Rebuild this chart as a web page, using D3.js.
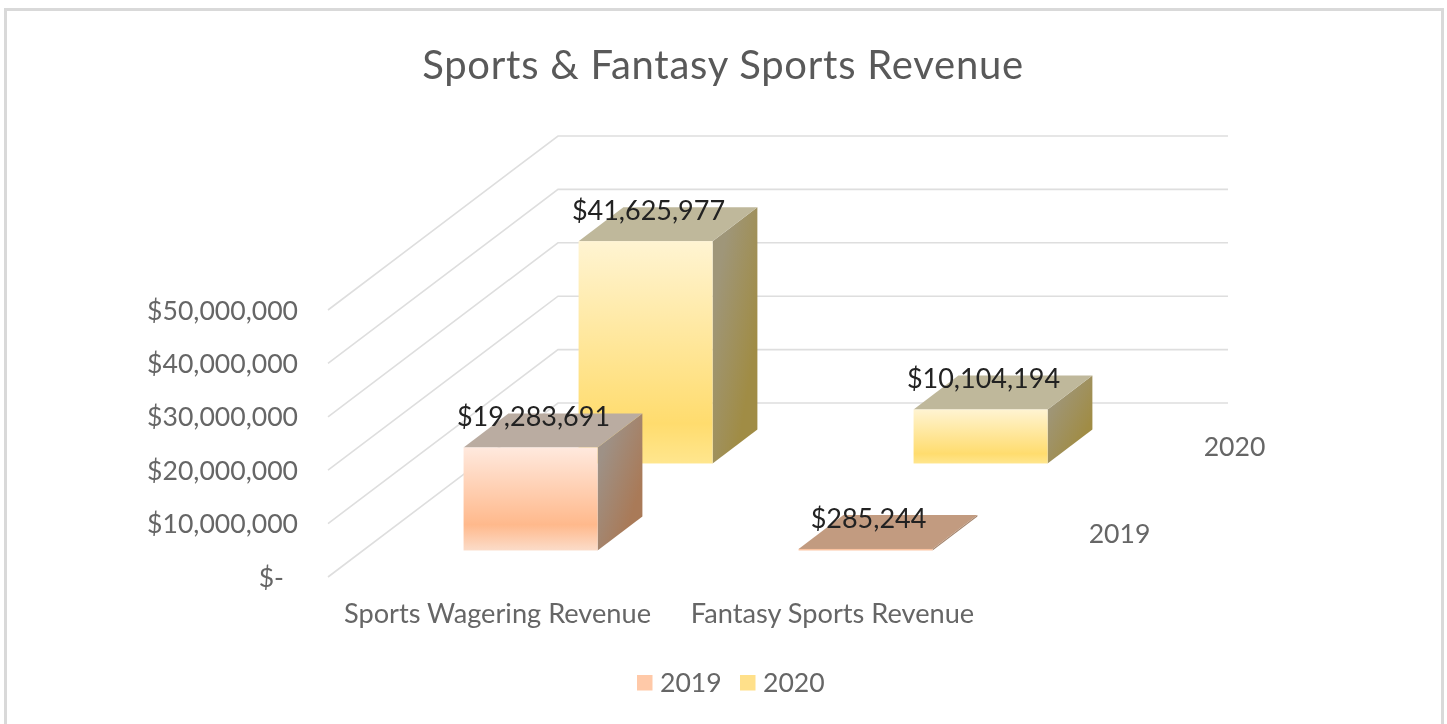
<!DOCTYPE html>
<html><head><meta charset="utf-8">
<script src="https://cdn.jsdelivr.net/npm/d3@7"></script>
<style>
html,body{margin:0;padding:0;background:#fff;overflow:hidden}
svg{display:block;filter:blur(0.45px)}
text{font-family:Lato,"Open Sans",sans-serif}
</style></head><body>
<svg id="c" width="1447" height="724"></svg>
<script>
const title = "Sports & Fantasy Sports Revenue";
const categories = ["Sports Wagering Revenue", "Fantasy Sports Revenue"];
const seriesNames = ["2019", "2020"];
const values2019 = [19283691, 285244];
const values2020 = [41625977, 10104194];
const tickValues = [0, 10000000, 20000000, 30000000, 40000000, 50000000];

const svg = d3.select("#c");
const W = 1447, H = 724;
const defs = svg.append("defs");

function vGrad(id, stops){
  const g = defs.append("linearGradient").attr("id", id).attr("x1",0).attr("y1",0).attr("x2",0).attr("y2",1);
  stops.forEach(s => g.append("stop").attr("offset", s[0]).attr("stop-color", s[1]));
}
function dGrad(id, a, b){
  const g = defs.append("linearGradient").attr("id", id).attr("x1",0).attr("y1",0).attr("x2",1).attr("y2",1);
  g.append("stop").attr("offset",0.2).attr("stop-color",a);
  g.append("stop").attr("offset",0.75).attr("stop-color",b);
}
vGrad("front2019", [[0,"#ffe9de"],[0.75,"#ffb98c"],[1,"#fbdcc9"]]);
vGrad("front2020", [[0,"#fff4d2"],[0.82,"#ffdc6e"],[1,"#ffe68e"]]);
dGrad("side2019", "#9e9186", "#a97a58");
dGrad("side2020", "#9f9679", "#a08c45");
const topColor = {"2019":"#baaca1","2020":"#bfb89b"};
const swatch = {"2019":"#ffc9a8","2020":"#ffe08a"};

// frame
svg.append("path").attr("d",`M5.5,${H}V9.5H1442.5V${H}`).attr("fill","none").attr("stroke","#d9d9d9").attr("stroke-width",3);

// title
svg.append("text").attr("x",723).attr("y",79).attr("text-anchor","middle")
  .attr("font-size",40).attr("fill","#595959").attr("letter-spacing",0.75).text(title);

// projection scales
const xScale = d3.scaleBand().domain(categories).range([328,998]);
const yScale = d3.scaleLinear().domain([0,50000000]).range([577,310]);
const depthX = d3.scaleLinear().domain([0,1]).range([0,230]);
const depthY = d3.scaleLinear().domain([0,1]).range([0,-174]);
const seriesBand = d3.scaleBand().domain(seriesNames).range([0,1]);
const barW = xScale.bandwidth()*0.4;
const barD = seriesBand.bandwidth()*0.39;
const project = (x,d,v) => [x+depthX(d), yScale(v)+depthY(d)];
const poly = pts => "M"+pts.map(p=>p.map(n=>n.toFixed(1)).join(",")).join("L")+"Z";

// gridlines
const grid = svg.append("g").attr("fill","none").attr("stroke","#dedede").attr("stroke-width",1.6);
tickValues.forEach(v=>{
  const a = project(xScale.range()[0],0,v), b = project(xScale.range()[0],1,v), c = project(xScale.range()[1],1,v);
  grid.append("path").attr("d",`M${a}L${b}L${c}`);
});

// bars: back series first
const rows = [];
seriesNames.forEach((s,si)=>categories.forEach((c,ci)=>{
  rows.push({s,c,v:(si===0?values2019:values2020)[ci]});
}));
const barsG = svg.append("g");
const labels = [];
["2020","2019"].forEach(s=>{
  rows.filter(r=>r.s===s).forEach(r=>{
    const xc = xScale(r.c)+xScale.bandwidth()/2, x0 = xc-barW/2, x1 = xc+barW/2;
    const dc = seriesBand(s)+seriesBand.bandwidth()/2, d0 = dc-barD/2, d1 = dc+barD/2;
    const g = barsG.append("g");
    g.append("path").attr("d",poly([project(x1,d0,0),project(x1,d1,0),project(x1,d1,r.v),project(x1,d0,r.v)]))
      .attr("fill",`url(#side${s})`);
    g.append("path").attr("d",poly([project(x0,d0,r.v),project(x1,d0,r.v),project(x1,d1,r.v),project(x0,d1,r.v)]))
      .attr("fill", r.v<1000000 ? "#c29b80" : topColor[s]);
    const a = project(x0,d0,r.v), b = project(x1,d0,0);
    g.append("rect").attr("x",a[0]).attr("y",a[1]).attr("width",b[0]-a[0]).attr("height",Math.max(b[1]-a[1],1.5))
      .attr("fill", r.v<1000000 ? "#fbc3a0" : `url(#front${s})`);
    const tc = project(xc,dc,r.v);
    labels.push({x:tc[0]-19.5,y:tc[1]-13.5,t:d3.format("$,")(r.v)});
  });
});

// value axis
const axis = d3.axisLeft(yScale).tickValues(tickValues).tickSize(0).tickPadding(30)
  .tickFormat(v=> v===0 ? "$-" : d3.format("$,")(v));
const ax = svg.append("g").attr("transform","translate(328,0)").call(axis);
ax.select(".domain").remove();
ax.selectAll("text").attr("font-size",26.6).attr("font-family","Lato").attr("fill","#666666")
  .attr("dy","0.32em").attr("dx",v=>v===0?-14:0)
  .attr("y",0.5);

// category axis
svg.append("g").selectAll("text").data(categories).join("text")
  .attr("x",c=>xScale(c)+xScale.bandwidth()/2+2).attr("y",622.5).attr("text-anchor","middle")
  .attr("font-size",27.2).attr("fill","#666666").text(c=>c);

// series (depth) axis
svg.append("g").selectAll("text").data(seriesNames).join("text")
  .attr("x",s=>xScale.range()[1]+depthX(seriesBand(s)+seriesBand.bandwidth()/2)+64)
  .attr("y",s=>yScale(0)+depthY(seriesBand(s)+seriesBand.bandwidth()/2)+9.5)
  .attr("text-anchor","middle").attr("font-size",26.6).attr("fill","#666666").text(s=>s);

// data labels
svg.append("g").selectAll("text").data(labels).join("text")
  .attr("x",d=>d.x).attr("y",d=>d.y).attr("dy","0.35em").attr("text-anchor","middle")
  .attr("font-size",27).attr("fill","#222222").text(d=>d.t);

// legend
const lx = d3.scalePoint().domain(seriesNames).range([637,740]);
const leg = svg.append("g").selectAll("g").data(seriesNames).join("g").attr("transform",s=>`translate(${lx(s)},675)`);
leg.append("rect").attr("width",15.5).attr("height",15.5).attr("fill",s=>swatch[s]);
leg.append("text").attr("x",23).attr("y",16.5).attr("font-size",26.6).attr("fill","#666666").text(s=>s);
</script>
</body></html>
